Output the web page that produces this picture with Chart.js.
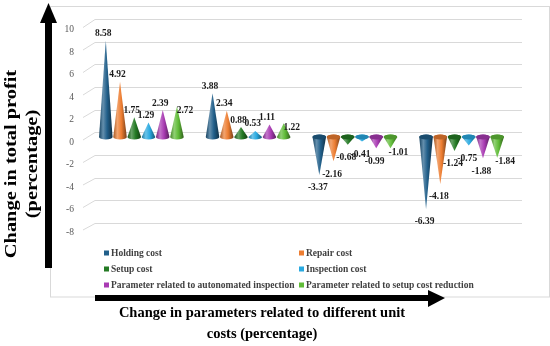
<!DOCTYPE html>
<html>
<head>
<meta charset="UTF-8">
<title>Change in total profit</title>
<script src="https://cdn.jsdelivr.net/npm/chart.js"></script>
<style>
body{margin:0;background:#fff;}
#wrap{width:550px;height:346px;}
</style>
</head>
<body>
<div id="wrap"><canvas id="myChart" width="550" height="346"></canvas></div>
<script>
// data
var categories = ['-50%', '-25%', '+25%', '+50%'];
var seriesNames = ['Holding cost', 'Repair cost', 'Setup cost', 'Inspection cost',
  'Parameter related to autonomated inspection', 'Parameter related to setup cost reduction'];
var holdingCost = [8.58, 3.88, -3.37, -6.39];
var repairCost = [4.92, 2.34, -2.16, -4.18];
var setupCost = [1.75, 0.88, -0.68, -1.24];
var inspectionCost = [1.29, 0.53, -0.41, -0.75];
var autoInspection = [2.39, 1.11, -0.99, -1.88];
var setupReduction = [2.72, 1.22, -1.01, -1.84];
var yTicks = [-8, -6, -4, -2, 0, 2, 4, 6, 8, 10];

var colors = ['#215f8a', '#ed7d31', '#247a24', '#29a9e0', '#a93bb3', '#60bc38'];
var allSeries = [holdingCost, repairCost, setupCost, inspectionCost, autoInspection, setupReduction];

function shade(hex, f) {
  var n = parseInt(hex.slice(1), 16);
  var c = [(n >> 16) & 255, (n >> 8) & 255, n & 255].map(function(v){
    v = f >= 1 ? v + (255 - v) * (f - 1) : v * f;
    return Math.round(Math.max(0, Math.min(255, v)));
  });
  return 'rgb(' + c.join(',') + ')';
}

function drawCone(ctx, x, tip, base, w, color) {
  var r = w / 2, ry = 2.5;
  var g = ctx.createLinearGradient(x - r, 0, x + r, 0);
  g.addColorStop(0, shade(color, 0.7));
  g.addColorStop(0.3, shade(color, 1.3));
  g.addColorStop(0.6, color);
  g.addColorStop(1, shade(color, 0.5));
  ctx.beginPath();
  ctx.moveTo(x - r, base);
  ctx.lineTo(x, tip);
  ctx.lineTo(x + r, base);
  ctx.ellipse(x, base, r, ry, 0, 0, Math.PI, tip > base);
  ctx.closePath();
  ctx.fillStyle = g;
  ctx.fill();
  if (tip > base) {
    ctx.beginPath();
    ctx.ellipse(x, base, r, ry, 0, 0, Math.PI * 2);
    ctx.fillStyle = shade(color, 0.8);
    ctx.fill();
  }
}

var conePlugin = {
  id: 'cones',
  beforeDraw: function(chart) {
    var ctx = chart.ctx;
    ctx.save();
    ctx.strokeStyle = '#d9d9d9';
    ctx.lineWidth = 1;
    ctx.strokeRect(50.5, 6.5, 499, 290.5);
    ctx.restore();
  },
  beforeDatasetsDraw: function(chart) {
    var ctx = chart.ctx, ys = chart.scales.y;
    var p0 = ys.getPixelForValue(0);
    ctx.save();
    ctx.strokeStyle = '#d9d9d9';
    ctx.lineWidth = 1;
    yTicks.forEach(function(v) {
      var p = ys.getPixelForValue(v);
      var back = Math.round(p - 4.7 + (p - p0) * 0.0074) + 0.5;
      ctx.beginPath();
      ctx.moveTo(83, p + 3);
      ctx.lineTo(95, back);
      ctx.lineTo(522, back);
      ctx.stroke();
    });
    ctx.restore();
  },
  afterDatasetsDraw: function(chart) {
    var ctx = chart.ctx;
    ctx.save();
    chart.data.datasets.forEach(function(ds, i) {
      var meta = chart.getDatasetMeta(i);
      meta.data.forEach(function(el, j) {
        drawCone(ctx, el.x, el.y, el.base, el.width * 0.95, colors[i]);
      });
    });
    ctx.font = 'bold 9.5px "Liberation Serif"';
    ctx.fillStyle = '#1a1a1a';
    ctx.textAlign = 'center';
    ctx.textBaseline = 'middle';
    chart.data.datasets.forEach(function(ds, i) {
      var meta = chart.getDatasetMeta(i);
      meta.data.forEach(function(el, j) {
        var v = ds.data[j], lx, ly;
        if (i === 5) { lx = el.x + 8; ly = el.y + 4; }
        else if (v >= 0) { lx = el.x - 2.5; ly = el.y - 7; }
        else { lx = el.x - 1.5; ly = el.y + 13; }
        ctx.fillText(v.toFixed(2), lx, ly);
      });
    });
    ctx.restore();
  },
  afterDraw: function(chart) {
    var ctx = chart.ctx;
    ctx.save();
    // legend
    ctx.font = 'bold 9.5px "Liberation Serif"';
    ctx.textBaseline = 'middle';
    ctx.textAlign = 'left';
    var colX = [104, 299], rowY = [253, 269, 285];
    seriesNames.forEach(function(name, i) {
      var x = colX[i % 2], y = rowY[Math.floor(i / 2)];
      ctx.fillStyle = colors[i];
      ctx.fillRect(x, y - 2.5, 5, 5);
      ctx.fillStyle = '#404040';
      ctx.fillText(name, x + 7, y + 0.5);
    });
    // arrows
    ctx.fillStyle = '#000';
    ctx.fillRect(45, 22, 7, 246);
    ctx.beginPath();
    ctx.moveTo(40, 23); ctx.lineTo(57, 23); ctx.lineTo(48.5, 3); ctx.closePath();
    ctx.fill();
    ctx.fillRect(95, 295, 335, 6);
    ctx.beginPath();
    ctx.moveTo(428, 290); ctx.lineTo(428, 307); ctx.lineTo(445, 298); ctx.closePath();
    ctx.fill();
    // axis titles
    ctx.textAlign = 'center';
    ctx.font = 'bold 14.5px "Liberation Serif"';
    ctx.fillText('Change in parameters related to different unit', 262, 313);
    ctx.fillText('costs (percentage)', 262, 334);
    ctx.translate(0, 164);
    ctx.rotate(-Math.PI / 2);
    ctx.scale(1.2, 1);
    ctx.font = 'bold 17px "Liberation Serif"';
    ctx.fillText('Change in total profit', 0, 12);
    ctx.fillText('(percentage)', 0, 33);
    ctx.restore();
  }
};

var datasets = allSeries.map(function(d, i) {
  return {
    label: seriesNames[i],
    data: d,
    backgroundColor: 'rgba(0,0,0,0)',
    borderWidth: 0,
    barPercentage: 1,
    categoryPercentage: 0.8
  };
});

new Chart(document.getElementById('myChart'), {
  type: 'bar',
  data: { labels: categories, datasets: datasets },
  options: {
    responsive: false,
    animation: false,
    layout: { padding: { left: 50, right: 35, top: 24.5, bottom: 119 } },
    plugins: { legend: { display: false }, tooltip: { enabled: false } },
    scales: {
      x: { display: false },
      y: {
        min: -8, max: 10,
        afterFit: function(s) { s.width = 38; },
        afterBuildTicks: function(s) { s.ticks = yTicks.map(function(v){ return { value: v }; }); },
        grid: { display: false, drawTicks: false },
        border: { display: false },
        ticks: { padding: 14, labelOffset: 5, color: '#595959', font: { family: 'Liberation Serif', size: 9.5 } }
      }
    }
  },
  plugins: [conePlugin]
});
</script>
</body>
</html>
